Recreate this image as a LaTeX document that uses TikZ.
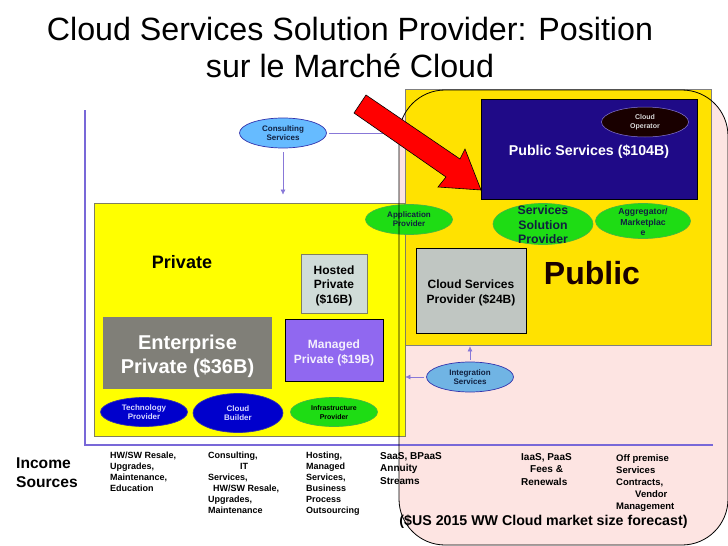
\documentclass[tikz,border=0pt]{standalone}
\usepackage{fontspec}
\setmainfont{Liberation Sans}
\usetikzlibrary{shapes.geometric,arrows.meta}
\definecolor{axisc}{HTML}{7868D8}
\definecolor{flowc}{HTML}{8878D8}
\definecolor{pinkc}{HTML}{FDE4E2}
\definecolor{goldc}{HTML}{FFE200}
\definecolor{yelc}{HTML}{FFFF00}
\definecolor{navyc}{HTML}{1F0A87}
\definecolor{greenc}{HTML}{1EDC14}
\definecolor{skyc}{HTML}{66BBFF}
\definecolor{skybc}{HTML}{70B4E4}
\definecolor{bluec}{HTML}{0000CC}
\definecolor{greyc}{HTML}{807F78}
\definecolor{violc}{HTML}{9068F0}
\definecolor{csp}{HTML}{C0C6C2}
\definecolor{hostc}{HTML}{D0DCD8}
\definecolor{edgec}{HTML}{807F60}
\definecolor{inkc}{HTML}{102040}
\newcommand{\fs}[2]{\fontsize{#1}{#2}\selectfont}
\tikzset{
  x=1pt,y=-1pt,
  boxn/.style={rectangle,inner sep=0pt,align=center,font=\bfseries},
  ell/.style={ellipse,inner sep=0pt,align=center,font=\bfseries\fs{8}{9.2},draw=#1!60!gray,line width=.7pt},
  lab/.style={inner sep=0pt,align=center,font=\bfseries},
  col/.style={inner sep=0pt,anchor=north west,align=left,font=\bfseries\fs{9}{11}},
  flow/.style={draw=flowc,line width=.6pt,-{Latex[length=5pt,width=5pt]}},
  flowplain/.style={draw=flowc,line width=.6pt},
}
\begin{document}
\begin{tikzpicture}
\useasboundingbox (0,0) rectangle (728,546);
\fill[white] (0,0) rectangle (728,546);
% cloud background
\fill[pinkc,rounded corners=46pt] (399,90) rectangle (728,545);
\node[boxn,fill=goldc,draw=gray,line width=.6pt,minimum width=306pt,minimum height=256pt] (gold) at (558,217) {};
% axes
\coordinate (axtop) at (85,110);
\coordinate (axcorner) at (85,445);
\coordinate (axend) at (713,445);
\draw[axisc,line width=2.4pt] (axtop) -- (axcorner) -- (axend);
% private
\node[boxn,fill=yelc,draw=edgec,line width=.7pt,minimum width=311pt,minimum height=233pt] (priv) at (249.5,319.5) {};
\node[lab,font=\bfseries\fs{18}{20}] (privt) at (182,262) {Private};
\node[boxn,fill=hostc,draw=edgec,line width=.6pt,minimum width=66pt,minimum height=59pt] (host) at (334,283.5) {};
\node[lab,font=\bfseries\fs{12}{14.5}] (hostt) at (334,285.5) {Hosted\\Private\\(\$16B)};
\node[boxn,fill=greyc,minimum width=169pt,minimum height=72pt] (ent) at (187.5,353) {};
\node[lab,text=white,font=\bfseries\fs{20}{24}] (entt) at (187.5,356) {Enterprise\\Private (\$36B)};
\node[boxn,fill=violc,draw=black,line width=.7pt,minimum width=98pt,minimum height=62pt] (man) at (334,350) {};
\node[lab,text=white!90!violc,font=\bfseries\fs{12}{15}] (mant) at (334,352.5) {Managed\\Private (\$19B)};
\node[ell=bluec,fill=bluec,text=white!85!blue,minimum width=87pt,minimum height=29pt] (tech) at (144,412) {Technology\\Provider};
\node[ell=bluec,fill=bluec,text=white!85!blue,minimum width=90pt,minimum height=39pt] (build) at (238,413) {Cloud\\Builder};
\node[ell=greenc,fill=greenc,minimum width=87pt,minimum height=29pt,font=\bfseries\fs{7}{9}] (infra) at (334,412) {Infrastructure\\Provider};
% public
\node[boxn,fill=navyc,minimum width=216pt,minimum height=100pt,draw=black,line width=.4pt] (pub) at (589,149) {};
\node[lab,text=white,font=\bfseries\fs{14.2}{16}] (pubt) at (589,152) {Public Services (\$104B)};
\node[ellipse,inner sep=0pt,align=center,fill=black!90!red,draw=flowc,line width=.5pt,text=white!85!black,font=\bfseries\fs{7}{9.4},minimum width=87pt,minimum height=30pt] (oper) at (645,122) {Cloud\\Operator};
\node[ell=greenc,fill=greenc,text=inkc,minimum width=87pt,minimum height=30pt,font=\bfseries\fs{8}{9}] (app) at (409,219.5) {Application\\Provider};
\node[ell=greenc,fill=greenc,minimum width=100pt,minimum height=41pt] (ssp) at (543,224) {};
\node[lab,text=inkc,font=\bfseries\fs{12.3}{14.5}] (sspt) at (543,225) {Services\\Solution\\Provider};
\node[ell=greenc,fill=greenc,minimum width=95pt,minimum height=35pt] (agg) at (643,221) {};
\node[lab,text=inkc,font=\bfseries\fs{8.7}{10.8}] (aggt) at (643,222) {Aggregator/\\Marketplac\\e};
\node[boxn,fill=csp,draw=black,line width=.7pt,minimum width=110pt,minimum height=85pt] (cloudsp) at (471,290.5) {};
\node[lab,font=\bfseries\fs{12}{14.5}] (cloudspt) at (471,293) {Cloud Services\\Provider (\$24B)};
\node[lab,font=\bfseries\fs{32}{36},text=black!90!red] (pubw) at (592,273) {Public};
% services
\node[ell=bluec,fill=skyc,text=inkc,minimum width=87pt,minimum height=30pt] (cons) at (283,133) {Consulting\\Services};
\node[ell=bluec,fill=skybc,text=inkc,minimum width=87pt,minimum height=30pt] (integ) at (470,377) {Integration\\Services};
\coordinate (consend) at (gold.west |- cons.east);
\draw[flowplain,shorten <=2pt] (cons.east) -- (consend);
\draw[flow,shorten <=4pt,shorten >=8pt] (cons.south) -- (cons.south |- priv.north);
\draw[flow,shorten <=2pt] (integ.west) -- (priv.east |- integ.west);
\draw[flow,shorten <=2pt,shorten >=1pt] (integ.north) -- (integ.north |- gold.south);
% cloud outline
\draw[black,line width=.8pt,rounded corners=46pt] (399,90) rectangle (728,545);
% red arrow
\draw[black,line width=.6pt,fill=red,line join=miter] (366,95) -- (460,159) -- (465,149) -- (481,190) -- (438,187) -- (446,177) -- (354,113) -- cycle;
% title
\node[inner sep=0pt,align=center,font=\fs{32.2}{37}] (title) at (350,47.5) {Cloud Services Solution Provider: Position\\sur le Marché Cloud};
% income
\node[inner sep=0pt,anchor=north west,align=left,font=\bfseries\fs{15.6}{18.5}] (inc) at (16,458) {Income\\Sources};
\node[col] (c1) at (110,452) {HW/SW Resale,\\Upgrades,\\Maintenance,\\Education};
\node[col] (c2) at (208,452) {Consulting,\\\hspace*{32pt}IT\\Services,\\\hspace*{5pt}HW/SW Resale,\\Upgrades,\\Maintenance};
\node[col] (c3) at (306,452) {Hosting,\\Managed\\Services,\\Business\\Process\\Outsourcing};
\node[col,font=\bfseries\fs{10}{12.8}] (c4) at (380,452) {SaaS, BPaaS\\Annuity\\Streams};
\node[col,font=\bfseries\fs{10}{12.5}] (c5) at (521,453) {IaaS, PaaS\\\hspace*{9pt}Fees \&\\Renewals};
\node[col,font=\bfseries\fs{9.5}{12}] (c6) at (616,454) {Off premise\\Services\\Contracts,\\\hspace*{19pt}Vendor\\Management};
\node[lab,font=\bfseries\fs{14.2}{16}] (fc) at (543.5,522) {(\$US 2015 WW Cloud market size forecast)};
\end{tikzpicture}
\end{document}
